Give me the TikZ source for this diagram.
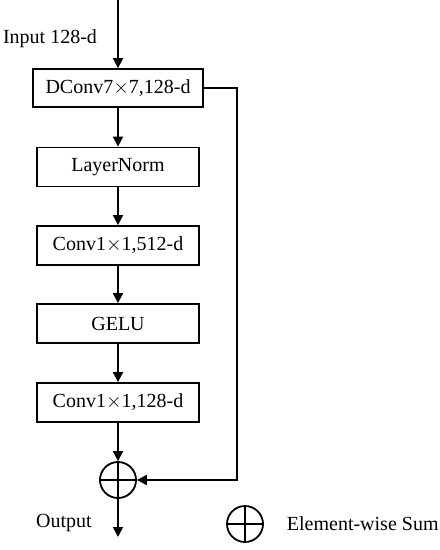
\documentclass[tikz,border=0pt]{standalone}
\usepackage{fontspec}
\setmainfont{Liberation Serif}
\usetikzlibrary{arrows.meta}

\begin{document}
\begin{tikzpicture}[x=0.5pt, y=-0.5pt, line width=0.9pt,
    >={Triangle[length=5pt, width=5pt]},
    font=\fontsize{10}{12}\selectfont,
    block/.style={draw, minimum width=81pt, minimum height=19.5pt, inner sep=0pt},
    sumnode/.style={draw, circle, minimum size=18pt, inner sep=0pt}]
    \useasboundingbox (0,0) rectangle (439,550);

    \coordinate (in) at (118,0);
    \coordinate (skip) at (237,88);
    \coordinate (out) at (118,537);

    \node[block, minimum width=85pt, minimum height=19pt] (dconv) at (118,88) {DConv7$\times$7,128-d};
    \node[block] (norm) at (118,167) {LayerNorm};
    \node[block] (pw1) at (118,245.5) {Conv1$\times$1,512-d};
    \node[block] (gelu) at (118,323.5) {GELU};
    \node[block] (pw2) at (118,402.5) {Conv1$\times$1,128-d};
    \node[sumnode] (sum) at (118,480) {};
    \node[sumnode] (legsum) at (245,524) {};

    \node (inlabel) at (50,39) {Input 128-d};
    \node (outlabel) at (64,523) {Output};
    \node[anchor=west, inner sep=0pt] (leglabel) at (286,524) {Element-wise Sum};

    \draw[->] (in) -- (dconv);
    \draw[->] (dconv) -- (norm);
    \draw[->] (norm) -- (pw1);
    \draw[->] (pw1) -- (gelu);
    \draw[->] (gelu) -- (pw2);
    \draw[->] (pw2) -- (sum);
    \draw[->] (sum) -- (out);
    \draw[->] (dconv.east) -- (skip) |- (sum.east);

    \foreach \n in {sum, legsum}
    \draw (\n.north) -- (\n.south) (\n.west) -- (\n.east);
\end{tikzpicture}
\end{document}
